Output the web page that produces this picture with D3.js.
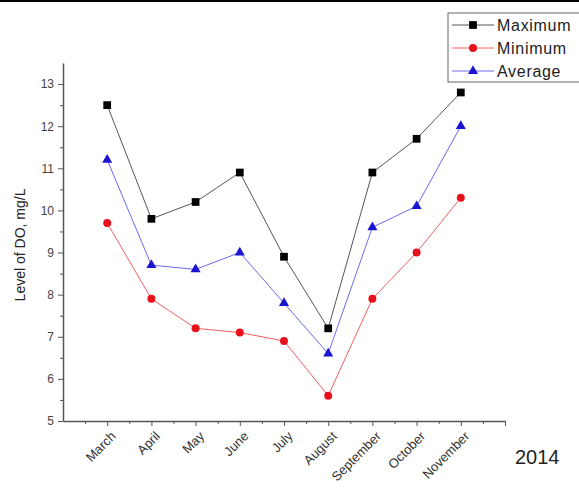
<!DOCTYPE html>
<html>
<head>
<meta charset="utf-8">
<script src="https://cdn.jsdelivr.net/npm/d3@7"></script>
<style>
  body { margin: 0; background: #fff; }
  text { font-family: "Liberation Sans", Arial, sans-serif; }
</style>
</head>
<body>
<svg id="chart"></svg>
<script>
// data
let months = ['March', 'April', 'May', 'June', 'July', 'August', 'September', 'October', 'November']
let maximum = [12.5, 9.8, 10.2, 10.9, 8.9, 7.2, 10.9, 11.7, 12.8]
let minimum = [9.7, 7.9, 7.2, 7.1, 6.9, 5.6, 7.9, 9.0, 10.3]
let average = [11.2, 8.7, 8.6, 9.0, 7.8, 6.6, 9.6, 10.1, 12.0]
let yTicks = [5, 6, 7, 8, 9, 10, 11, 12, 13]

let width = 579, height = 492

const svg = d3.select('#chart')
    .attr('width', width)
    .attr('height', height)

// thin rule across the very top
svg.append('line')
    .attr('x1', 0).attr('x2', width)
    .attr('y1', 1).attr('y2', 1)
    .attr('stroke', '#000')
    .attr('stroke-width', 2)

let x = d3.scaleLinear().domain([0, 10]).range([63, 505])
let y = d3.scaleLinear().domain([5, 13.5]).range([421, 63])

let axisColor = '#555'

// y axis: minor ticks then major
svg.append('g')
    .attr('transform', 'translate(63,0)')
    .call(d3.axisLeft(y).tickValues(d3.range(5.5, 13.5, 1)).tickSize(3).tickFormat(''))
    .call(g => g.select('.domain').remove())
    .selectAll('line').attr('stroke', axisColor)

let yAxis = svg.append('g')
    .attr('transform', 'translate(63,0)')
    .call(d3.axisLeft(y).tickValues(yTicks).tickSize(5).tickSizeOuter(0).tickPadding(4))
yAxis.select('.domain').attr('stroke', axisColor).attr('stroke-width', 1.5)
yAxis.selectAll('line').attr('stroke', axisColor)
yAxis.selectAll('text')
    .attr('font-size', 12)
    .attr('fill', '#444')
    .style('font-family', '"Liberation Sans", Arial, sans-serif')

// x axis
svg.append('g')
    .attr('transform', 'translate(0,421)')
    .call(d3.axisBottom(x).tickValues(d3.range(0.5, 10, 1)).tickSize(3).tickFormat(''))
    .call(g => g.select('.domain').remove())
    .selectAll('line').attr('stroke', axisColor)

let xAxis = svg.append('g')
    .attr('transform', 'translate(0,421)')
    .call(d3.axisBottom(x).tickValues(d3.range(1, 11)).tickSize(5).tickSizeOuter(0)
        .tickFormat(d => months[d - 1] || ''))
xAxis.select('.domain').attr('stroke', axisColor).attr('stroke-width', 1.5)
xAxis.selectAll('line').attr('stroke', axisColor)
xAxis.selectAll('text')
    .attr('font-size', 13)
    .attr('fill', '#333')
    .style('font-family', '"Liberation Sans", Arial, sans-serif')
    .attr('text-anchor', 'end')
    .attr('dy', null)
    .attr('transform', 'translate(9,16) rotate(-45)')
    .attr('y', 0)
    .attr('x', 0)

// axis title
svg.append('text')
    .attr('transform', 'translate(25,245) rotate(-90)')
    .attr('text-anchor', 'middle')
    .attr('font-size', 14)
    .attr('fill', '#222')
    .text('Level of DO, mg/L')

svg.append('text')
    .attr('x', 515)
    .attr('y', 464)
    .attr('font-size', 20)
    .attr('fill', '#222')
    .text('2014')

let series = [
    { name: 'Maximum', values: maximum, color: '#000', line: '#555', shape: d3.symbolSquare, size: 60 },
    { name: 'Minimum', values: minimum, color: '#e8101a', line: '#f06060', shape: d3.symbolCircle, size: 50 },
    { name: 'Average', values: average, color: '#1a14d0', line: '#6a6af0', shape: d3.symbolTriangle, size: 44 }
]

let line = d3.line()
    .x((d, i) => x(i + 1))
    .y(d => y(d))

series.forEach(s => {
    svg.append('path')
        .datum(s.values)
        .attr('d', line)
        .attr('fill', 'none')
        .attr('stroke', s.line)
        .attr('stroke-width', 1)

    svg.selectAll(null)
        .data(s.values)
        .join('path')
        .attr('d', d3.symbol(s.shape, s.size))
        .attr('transform', (d, i) => `translate(${x(i + 1)},${y(d)})`)
        .attr('fill', s.color)
})

// legend
let legend = svg.append('g').attr('transform', 'translate(448,13)')
legend.append('rect')
    .attr('x', 0).attr('y', 0)
    .attr('width', 140).attr('height', 69)
    .attr('fill', '#fff')
    .attr('stroke', '#666')
    .attr('stroke-width', 1)

series.forEach((s, i) => {
    let row = legend.append('g').attr('transform', `translate(0,${12 + i * 23})`)
    row.append('line')
        .attr('x1', 4).attr('x2', 46)
        .attr('stroke', s.line)
        .attr('stroke-width', 1)
    row.append('path')
        .attr('d', d3.symbol(s.shape, s.size))
        .attr('transform', 'translate(25,0)')
        .attr('fill', s.color)
    row.append('text')
        .attr('x', 49)
        .attr('y', 5.5)
        .attr('font-size', 16)
        .attr('letter-spacing', 0.7)
        .attr('fill', '#222')
        .text(s.name)
})
</script>
</body>
</html>
